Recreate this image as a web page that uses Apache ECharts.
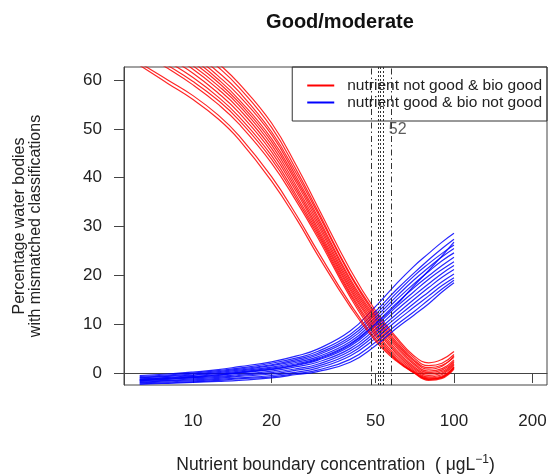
<!DOCTYPE html>
<html>
<head>
<meta charset="utf-8">
<script src="https://cdn.jsdelivr.net/npm/echarts@6/dist/echarts.min.js"></script>
<style>html,body{margin:0;padding:0;background:#fff}#c{width:551px;height:475px}</style>
</head>
<body>
<div id="c"></div>
<script>
// x positions (nutrient concentration, µg/L) at which curves were read
const xs = [6.25, 8, 10, 12.5, 15, 20, 25, 30, 40, 50, 60, 70, 80, 90, 100];

// red: nutrient not good & bio good (% water bodies)
const redRuns = [
  [74.5, 71.2, 67.8, 63.4, 59.3, 51.2, 42.3, 34.1, 21.2, 12.8, 7.4, 3.6, 2.1, 2.8, 4.4],
  [73.0, 70.2, 66.8, 62.6, 58.5, 50.3, 41.4, 33.3, 20.3, 12.3, 7.0, 3.2, 1.5, 2.0, 3.8],
  [72.2, 69.1, 65.7, 61.6, 57.6, 49.4, 40.7, 32.8, 20.0, 11.8, 6.5, 2.8, 1.1, 1.6, 3.2],
  [71.5, 68.3, 65.0, 60.8, 56.8, 48.8, 40.0, 32.1, 19.3, 11.4, 6.1, 2.5, 0.8, 1.4, 3.5],
  [70.8, 67.6, 64.3, 60.1, 56.0, 48.0, 39.4, 31.6, 18.9, 11.0, 5.7, 2.1, 0.4, 0.9, 2.7],
  [70.0, 66.9, 63.6, 59.5, 55.4, 47.4, 38.8, 31.0, 18.4, 10.6, 5.3, 1.8, 0.1, 0.6, 2.4],
  [69.4, 66.2, 62.9, 58.8, 54.8, 46.7, 38.1, 30.4, 17.9, 10.1, 4.8, 1.4, -0.2, 0.3, 2.2],
  [68.6, 65.4, 62.2, 58.1, 54.1, 46.0, 37.5, 29.8, 17.4, 9.6, 4.4, 1.1, -0.5, 0.0, 1.9],
  [67.9, 64.6, 61.4, 57.3, 53.3, 45.3, 36.9, 29.3, 17.0, 9.2, 4.0, 0.8, -0.8, -0.3, 1.6],
  [67.1, 63.8, 60.5, 56.5, 52.5, 44.5, 36.2, 28.8, 16.5, 8.6, 3.5, 0.5, -1.0, -0.6, 1.3],
  [66.4, 63.0, 59.7, 55.8, 51.8, 43.8, 35.6, 28.3, 16.1, 8.1, 3.1, 0.3, -1.3, -0.9, 1.0],
  [65.8, 62.4, 59.0, 55.0, 51.0, 43.0, 35.0, 27.8, 15.6, 7.6, 2.8, 0.1, -1.5, -1.1, 0.8],
  [63.5, 60.0, 56.8, 52.8, 48.6, 40.2, 32.2, 25.0, 14.2, 7.0, 2.7, 0.2, -1.2, -0.8, 1.2],
  [63.0, 59.3, 56.0, 52.0, 47.8, 39.3, 31.4, 24.2, 13.6, 6.6, 2.5, 0.1, -1.3, -0.9, 1.1]
];

// blue: nutrient good & bio not good (% water bodies)
const blueRuns = [
  [-0.5, -0.2, 0.2, 0.7, 1.3, 2.3, 3.5, 4.9, 8.6, 13.6, 18.2, 21.8, 24.5, 26.8, 28.6],
  [-0.7, -0.4, 0.0, 0.5, 1.0, 2.0, 3.1, 4.4, 7.9, 12.6, 17.0, 20.4, 23.2, 25.5, 27.4],
  [-0.9, -0.6, -0.2, 0.3, 0.8, 1.7, 2.8, 4.0, 7.4, 12.0, 16.3, 19.8, 22.4, 24.5, 26.2],
  [-1.0, -0.7, -0.4, 0.1, 0.6, 1.5, 2.5, 3.7, 6.9, 11.4, 15.6, 19.0, 21.6, 23.8, 25.5],
  [-1.2, -0.9, -0.5, -0.1, 0.4, 1.2, 2.2, 3.3, 6.4, 10.8, 14.9, 18.2, 20.8, 23.0, 24.6],
  [-1.3, -1.0, -0.7, -0.3, 0.2, 1.0, 1.9, 3.0, 6.0, 10.2, 14.2, 17.4, 19.9, 22.0, 23.7],
  [-1.5, -1.2, -0.9, -0.5, 0.0, 0.7, 1.6, 2.6, 5.5, 9.6, 13.5, 16.6, 19.2, 21.2, 22.8],
  [-1.6, -1.3, -1.0, -0.7, -0.3, 0.4, 1.3, 2.2, 5.0, 9.0, 12.8, 15.8, 18.3, 20.4, 22.0],
  [-1.7, -1.5, -1.2, -0.9, -0.5, 0.1, 0.9, 1.8, 4.5, 8.4, 12.0, 15.0, 17.5, 19.6, 21.2],
  [-1.9, -1.6, -1.4, -1.1, -0.7, -0.2, 0.6, 1.4, 4.0, 7.8, 11.3, 14.2, 16.6, 18.7, 20.3],
  [-2.0, -1.8, -1.6, -1.3, -1.0, -0.5, 0.2, 1.0, 3.5, 7.1, 10.6, 13.4, 15.8, 17.9, 19.5],
  [-2.2, -2.0, -1.8, -1.5, -1.2, -0.8, -0.1, 0.6, 2.8, 6.3, 9.8, 12.5, 15.0, 17.2, 19.0],
  [-2.3, -2.1, -1.9, -1.7, -1.5, -1.0, -0.3, 0.3, 2.2, 5.6, 9.1, 11.8, 14.2, 16.6, 18.5],
  [-1.4, -1.1, -0.8, -0.4, 0.1, 0.8, 1.7, 2.8, 5.8, 10.0, 13.9, 17.8, 21.0, 24.0, 26.8]
];

// boundary estimates (vertical lines)
const cutValues = [48.2, 51.3, 52.4, 53.6, 57.7];
const cutStyles = ['dashdot', 'dotted', 'dotted', 'dotted', 'dashdot'];
const cutLabel = { x: 52.4, y: 49.8, text: '52' };

const xTicks = [10, 20, 50, 100, 200];
const yTicks = [0, 10, 20, 30, 40, 50, 60];

const redName = 'nutrient not good & bio good';
const blueName = 'nutrient good & bio not good';

const FONT = '"Liberation Sans", Arial, sans-serif';

function curve(name, color, ys) {
  return {
    type: 'line', name: name, color: color, silent: true,
    symbol: 'none', showSymbol: false, smooth: 0.45,
    lineStyle: { width: 1.2, color: color, opacity: 0.85 },
    data: xs.map((x, j) => [x, ys[j]])
  };
}

const series = [];
const n = Math.max(redRuns.length, blueRuns.length);
for (let i = 0; i < n; i++) {
  if (redRuns[i]) series.push(curve(redName, '#ff0000', redRuns[i]));
  if (blueRuns[i]) series.push(curve(blueName, '#0000ff', blueRuns[i]));
}

const dashTypes = { dashdot: [6, 3, 1.5, 3], dotted: [2, 2] };
series.push({
  type: 'scatter', name: 'cuts', silent: true, symbolSize: 0,
  data: [[cutLabel.x, cutLabel.y]],
  label: { show: true, position: 'right', distance: 8, formatter: cutLabel.text,
           fontSize: 16, color: '#333', fontFamily: FONT },
  markLine: {
    silent: true, symbol: 'none', animation: false,
    label: { show: false },
    data: cutValues.map((v, k) => ({
      xAxis: v,
      lineStyle: { type: dashTypes[cutStyles[k]], color: '#333', width: 1 }
    }))
  }
});

const chart = echarts.init(document.getElementById('c'), null, { renderer: 'canvas' });
chart.setOption({
  animation: false,
  backgroundColor: '#fff',
  textStyle: { fontFamily: FONT },
  title: {
    text: 'Good/moderate', left: 335, textAlign: 'center', top: 7,
    textStyle: { fontSize: 20, fontWeight: 'bold', color: '#111', fontFamily: FONT }
  },
  legend: {
    data: [redName, blueName],
    orient: 'vertical', right: 4, top: 67,
    icon: 'rect', itemWidth: 27, itemHeight: 2, itemGap: 0,
    padding: [10, 5, 10, 15],
    borderColor: '#333', borderWidth: 1, borderRadius: 0,
    textStyle: { fontSize: 15.5, color: '#222', fontFamily: FONT, padding: [0, 0, 0, 8], lineHeight: 17 }
  },
  grid: { left: 124, right: 4, top: 67, bottom: 90, show: true, borderColor: '#444', borderWidth: 1,
          containLabel: false, outerBoundsMode: 'none' },
  xAxis: {
    type: 'log', logBase: 10, min: 5.44, max: 227.2,
    name: 'Nutrient boundary concentration  ( μgL{s|−1})',
    nameLocation: 'middle', nameGap: 69,
    nameTextStyle: { fontSize: 17.5, color: '#222', fontFamily: FONT,
      rich: { s: { fontSize: 12, verticalAlign: 'top', padding: [0, 0, 10, 0], color: '#222' } } },
    axisLine: { show: true, lineStyle: { color: '#444' } },
    axisTick: { show: true, length: 10, customValues: xTicks, lineStyle: { color: '#444' } },
    axisLabel: { customValues: xTicks, fontSize: 17, color: '#222', margin: 28, fontFamily: FONT,
                 formatter: v => String(Math.round(v)) },
    splitLine: { show: false }, minorTick: { show: false }
  },
  yAxis: {
    type: 'value', min: -2.45, max: 62.66,
    name: 'Percentage water bodies\nwith mismatched classifications',
    nameLocation: 'middle', nameGap: 80, nameRotate: 90,
    nameTextStyle: { fontSize: 16, color: '#222', fontFamily: FONT, lineHeight: 16 },
    axisLine: { show: true, lineStyle: { color: '#444' } },
    axisTick: { show: true, length: 10, customValues: yTicks, lineStyle: { color: '#444' } },
    axisLabel: { customValues: yTicks, fontSize: 17, color: '#222', margin: 22, fontFamily: FONT },
    splitLine: { show: false }
  },
  series: series
});
</script>
</body>
</html>
